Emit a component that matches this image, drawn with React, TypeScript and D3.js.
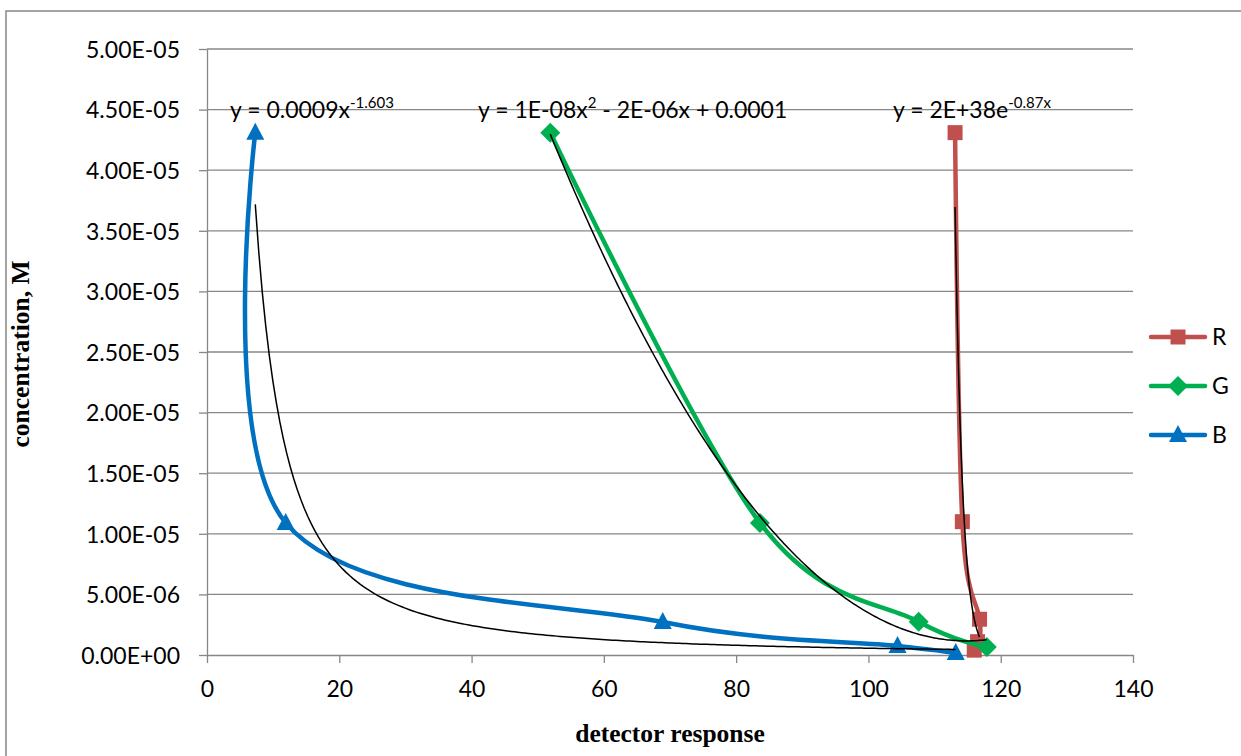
import React, { useRef, useEffect } from 'react';
import * as d3 from 'd3';

// concentration (M) vs detector response for each colour channel
const redX = [113.1, 114.2, 116.8, 116.5, 116.0];
const redY = [4.31e-5, 1.1e-5, 2.95e-6, 1.1e-6, 0.4e-6];
const greenX = [51.9, 83.6, 107.6, 117.9];
const greenY = [4.31e-5, 1.09e-5, 2.75e-6, 0.65e-6];
const blueX = [7.3, 11.9, 68.9, 104.4, 113.2];
const blueY = [4.31e-5, 1.09e-5, 2.72e-6, 0.75e-6, 0.16e-6];

const xTicks = [0, 20, 40, 60, 80, 100, 120, 140];
const yTicks = [0, 5e-6, 1e-5, 1.5e-5, 2e-5, 2.5e-5, 3e-5, 3.5e-5, 4e-5, 4.5e-5, 5e-5];
const yTickLabels = ['0.00E+00', '5.00E-06', '1.00E-05', '1.50E-05', '2.00E-05', '2.50E-05',
  '3.00E-05', '3.50E-05', '4.00E-05', '4.50E-05', '5.00E-05'];

const seriesNames = ['R', 'G', 'B'];
const seriesColors = ['#C0504D', '#00B050', '#0070C0'];

// trendline equations as printed on the chart (power for B, exponential for R)
const powerCoef = [0.0009, -1.603];
const expCoef = [2e38, -0.87];

const FONT = 'Lato, "Open Sans", sans-serif';
const SERIF = '"Liberation Serif", "DejaVu Serif", serif';

// the printed quadratic is too rounded to draw, so refit it from the points
const polyFit2 = (xs: number[], ys: number[]) => {
  const s = (p: number) => d3.sum(xs, x => x ** p);
  const t = (p: number) => d3.sum(xs, (x, i) => x ** p * ys[i]);
  const m = [[s(0), s(1), s(2), t(0)], [s(1), s(2), s(3), t(1)], [s(2), s(3), s(4), t(2)]];
  for (let i = 0; i < 3; i++) {
    for (let k = i + 1; k < 3; k++) {
      const f = m[k][i] / m[i][i];
      for (let j = i; j < 4; j++) m[k][j] -= f * m[i][j];
    }
  }
  const c = [0, 0, 0];
  for (let i = 2; i >= 0; i--) {
    let v = m[i][3];
    for (let j = i + 1; j < 3; j++) v -= m[i][j] * c[j];
    c[i] = v / m[i][i];
  }
  return (x: number) => c[0] + c[1] * x + c[2] * x * x;
};

const Chart = () => {
  const ref = useRef<SVGSVGElement>(null);

  useEffect(() => {
    const svg = d3.select(ref.current);
    svg.selectAll('*').remove();
    const width = 1241, height = 756;
    const margin = { top: 49, right: 108, bottom: 101, left: 207 };

    const x = d3.scaleLinear().domain([0, 140]).range([margin.left, width - margin.right]);
    const y = d3.scaleLinear().domain([0, 5e-5]).range([height - margin.bottom, margin.top]);

    svg.append('rect')
      .attr('x', 6).attr('y', 11).attr('width', 1250).attr('height', 760)
      .attr('fill', 'white').attr('stroke', '#878787').attr('stroke-width', 1.5);

    // horizontal gridlines
    svg.append('g').selectAll('line').data(yTicks.slice(1)).join('line')
      .attr('x1', x(0)).attr('x2', x(140))
      .attr('y1', d => y(d)).attr('y2', d => y(d))
      .attr('stroke', '#878787').attr('stroke-width', 1.3);

    const yAxis = svg.append('g').attr('transform', `translate(${x(0)},0)`)
      .call(d3.axisLeft(y).tickValues(yTicks).tickSize(8).tickSizeOuter(0)
        .tickFormat((d, i) => yTickLabels[i]));
    const xAxis = svg.append('g').attr('transform', `translate(0,${y(0)})`)
      .call(d3.axisBottom(x).tickValues(xTicks).tickSize(8).tickSizeOuter(0));
    [xAxis, yAxis].forEach(g => {
      g.select('.domain').attr('stroke', '#878787').attr('stroke-width', 1.3);
      g.selectAll('line').attr('stroke', '#878787').attr('stroke-width', 1.3);
      g.selectAll('text').attr('fill', 'black').style('font-family', FONT).style('font-size', '23px');
    });
    yAxis.selectAll('text').attr('x', -27).attr('dy', '0.36em');
    xAxis.selectAll('text').attr('y', 26).attr('dy', '0.7em');

    svg.append('text')
      .attr('x', x(70)).attr('y', 742).attr('text-anchor', 'middle')
      .style('font-family', SERIF).style('font-weight', 'bold').style('font-size', '25.5px')
      .text('detector response');
    svg.append('text')
      .attr('transform', `translate(${29},${354}) rotate(-90)`).attr('text-anchor', 'middle')
      .style('font-family', SERIF).style('font-weight', 'bold').style('font-size', '25.5px')
      .text('concentration, M');

    const xsList = [redX, greenX, blueX];
    const ysList = [redY, greenY, blueY];
    const line = d3.line<[number, number]>()
      .x(d => x(d[0])).y(d => y(d[1]))
      .curve(d3.curveCatmullRom.alpha(0));

    const marker = (g: any, i: number, cx: number, cy: number) => {
      const c = seriesColors[i];
      if (i === 0) {
        g.append('rect').attr('x', cx - 7.5).attr('y', cy - 7.5).attr('width', 15).attr('height', 15).attr('fill', c);
      } else if (i === 1) {
        g.append('path').attr('d', `M${cx},${cy - 10}L${cx + 10},${cy}L${cx},${cy + 10}L${cx - 10},${cy}Z`).attr('fill', c);
      } else {
        g.append('path').attr('d', `M${cx},${cy - 10}L${cx + 9},${cy + 7}L${cx - 9},${cy + 7}Z`).attr('fill', c);
      }
    };

    xsList.forEach((xs, i) => {
      const pts = xs.map((v, j) => [v, ysList[i][j]] as [number, number]);
      const g = svg.append('g');
      g.append('path').attr('d', line(pts)).attr('fill', 'none')
        .attr('stroke', seriesColors[i]).attr('stroke-width', 4.5)
        .attr('stroke-linejoin', 'round').attr('stroke-linecap', 'round');
      pts.forEach(p => marker(g, i, x(p[0]), y(p[1])));
    });

    // trendlines
    const fits = [
      (v: number) => expCoef[0] * Math.exp(expCoef[1] * v),
      polyFit2(greenX, greenY),
      (v: number) => powerCoef[0] * Math.pow(v, powerCoef[1]),
    ];
    const trend = d3.line<[number, number]>().x(d => x(d[0])).y(d => y(d[1]));
    xsList.forEach((xs, i) => {
      const [lo, hi] = d3.extent(xs) as [number, number];
      const pts = d3.range(0, 201).map(k => {
        const v = lo + (hi - lo) * k / 200;
        return [v, fits[i](v)] as [number, number];
      });
      svg.append('path').attr('d', trend(pts)).attr('fill', 'none')
        .attr('stroke', 'black').attr('stroke-width', 1.5);
    });

    // trendline equations
    const eqs: [number, string, string, string][] = [
      [230, 'y = 0.0009x', '-1.603', ''],
      [478, 'y = 1E-08x', '2', ' - 2E-06x + 0.0001'],
      [893, 'y = 2E+38e', '-0.87x', ''],
    ];
    eqs.forEach(([ex, a, sup, b]) => {
      const t = svg.append('text').attr('x', ex).attr('y', 118)
        .style('font-family', FONT).style('font-size', '23px').attr('fill', 'black');
      t.append('tspan').text(a);
      t.append('tspan').attr('dy', -10).style('font-size', '15px').text(sup);
      if (b) t.append('tspan').attr('dy', 10).text(b);
    });

    // legend
    seriesNames.forEach((name, i) => {
      const ly = 337 + i * 49;
      const g = svg.append('g');
      g.append('line').attr('x1', 1151).attr('x2', 1205).attr('y1', ly).attr('y2', ly)
        .attr('stroke', seriesColors[i]).attr('stroke-width', 4.5).attr('stroke-linecap', 'round');
      marker(g, i, 1178, ly);
      g.append('text').attr('x', 1212).attr('y', ly).attr('dy', '0.36em')
        .style('font-family', FONT).style('font-size', '23px').text(name);
    });
  }, []);

  return <svg ref={ref} width={1241} height={756} style={{ display: 'block' }} />;
};

export default function App() {
  return (
    <div style={{ position: 'fixed', left: 0, top: 0 }}>
      <Chart />
    </div>
  );
}
